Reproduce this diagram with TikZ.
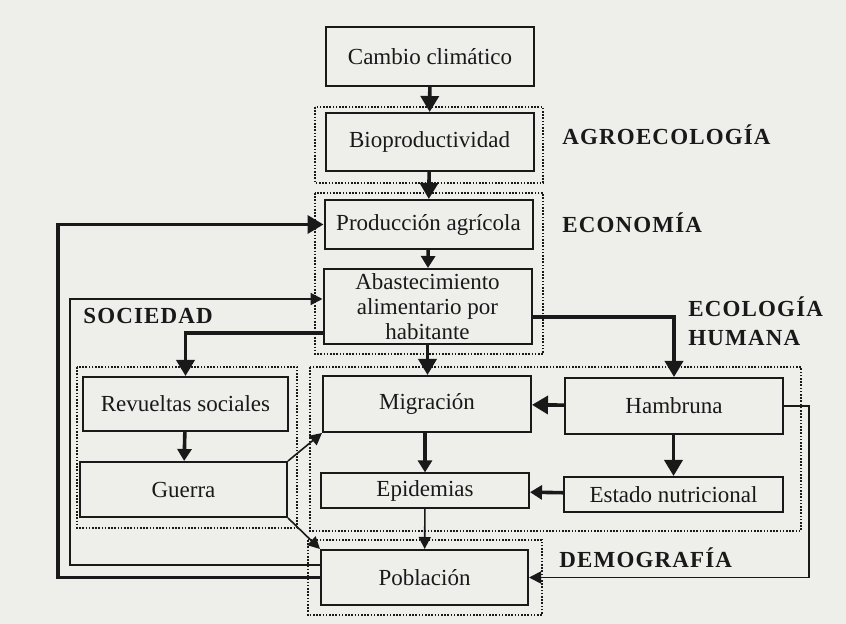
\documentclass[tikz,border=0pt]{standalone}
\usepackage{fontspec}
\setmainfont{Liberation Serif}
\usetikzlibrary{arrows.meta}

\definecolor{fondo}{RGB}{238,238,235}
\definecolor{tinta}{RGB}{25,25,25}

\begin{document}
\begin{tikzpicture}[x=0.5pt, y=-0.5pt,
        caja/.style={draw=tinta, line width=1pt, minimum width=104pt, align=center,
            text=tinta, font=\fontsize{11.5}{12.5}\selectfont},
        marco/.style={draw=tinta, line width=1pt, dash pattern=on .8pt off .8pt},
        titulo/.style={anchor=west, inner sep=0pt, text=tinta, align=left,
            font=\fontsize{11.5}{14.5}\selectfont\bfseries\addfontfeatures{LetterSpace=5}},
        flecha/.style={draw=tinta, line width=1.8pt, -{Triangle[length=8pt,width=9pt]}},
        media/.style={draw=tinta, line width=1.8pt, -{Triangle[length=6pt,width=7pt]}},
        fina/.style={draw=tinta, line width=.8pt, -{Triangle[length=6pt,width=6pt]}}]

            \fill [fondo] (0,0) rectangle (846,624);
            \useasboundingbox (0,0) rectangle (846,624);

            % marcos punteados
            \draw [marco] (315,107) rectangle (543,183);
            \draw [marco] (315,193) rectangle (543,354);
            \draw [marco] (310,367) rectangle (801,531);
            \draw [marco] (308,540) rectangle (542,615);
            \draw [marco] (77,367) rectangle (297,528);

            \node [caja, minimum height=29.5pt] (cambio) at (430,56.5) {Cambio climático};
            \node [caja, minimum height=29pt] (bio) at (429.5,142) {Bioproductividad};
            \node [caja, minimum height=24.5pt] (prod) at (428.5,224.5) {Producción agrícola};
            \node [caja, minimum height=37.5pt, inner sep=1pt] (abast) at (427.5,306.5)
                {Abastecimiento\\alimentario por\\habitante};
            \node [caja, minimum height=27pt, minimum width=102.5pt] (rev) at (185.5,404) {Revueltas sociales};
            \node [caja, minimum height=27.5pt, minimum width=103.5pt] (guerra) at (183.5,489.5) {Guerra};
            \node [caja, minimum height=28pt] (migr) at (427,404) {Migración};
            \node [caja, minimum height=15.5pt] (epid) at (425,490.5) {Epidemias};
            \node [caja, minimum height=27.5pt, minimum width=103.5pt] (pobl) at (424.5,577.5) {Población};
            \node [caja, minimum height=28pt, minimum width=109pt] (hamb) at (674,406) {Hambruna};
            \node [caja, minimum height=17.5pt, minimum width=109.5pt] (estado) at (673.5,494.5) {Estado nutricional};

            \node [titulo] (agro) at (562,135) {AGROECOLOGÍA};
            \node [titulo] (econ) at (562,223) {ECONOMÍA};
            \node [titulo] (ecol) at (688,321) {ECOLOGÍA\\HUMANA};
            \node [titulo] (soc) at (83,316) {SOCIEDAD};
            \node [titulo] (demo) at (559,558) {DEMOGRAFÍA};

            \draw [flecha] (cambio) -- (bio);
            \draw [flecha] (bio) -- (prod);
            \draw [media] (prod) -- (abast);
            \draw [flecha] (abast.south) -- (abast.south |- migr.north);
            \draw [flecha] ([yshift=-13.25pt]abast.west) -| (rev.north);
            \draw [flecha] ([yshift=-5.25pt]abast.east) -| (hamb.north);
            \draw [media] (rev) -- (guerra);
            \draw [fina] (guerra.north east) -- (migr.south west);
            \draw [fina] (guerra.south east) -- (pobl.north west);
            \draw [media] (migr.south -| epid.north) -- (epid.north);
            \draw [fina] (epid) -- (pobl);
            \draw [flecha] (hamb) -- (migr);
            \draw [media] (estado) -- (epid);
            \draw [flecha] (hamb.south -| estado.north) -- (estado.north);
            \draw [fina] (hamb.east) -- ++(25,0) |- (pobl.east);
            \draw [draw=tinta, line width=1pt, -{Triangle[length=6pt,width=6pt]}]
                ([yshift=6.25pt]pobl.west) -| (70,299) -- ([yshift=3.75pt]abast.west);
            \draw [flecha] (pobl.west) -| (58,224.5) -- (prod.west);

        \end{tikzpicture}
\end{document}
